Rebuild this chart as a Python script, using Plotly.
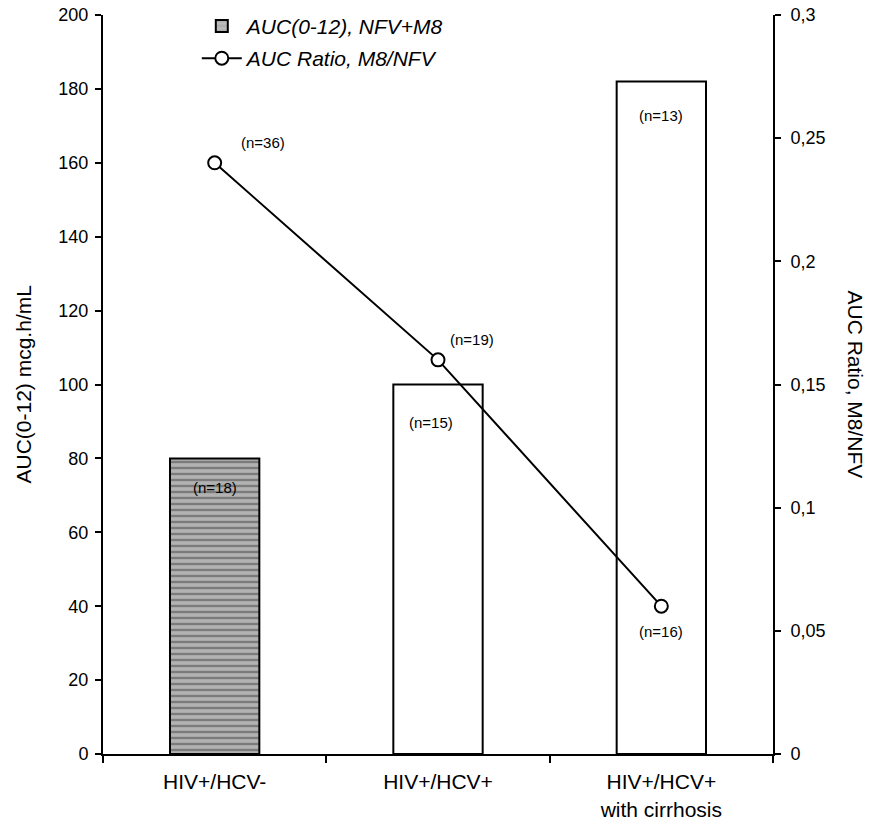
import plotly.graph_objects as go

categories = ["HIV+/HCV-", "HIV+/HCV+", "HIV+/HCV+<br>with cirrhosis"]
auc_values = [80, 100, 182]
auc_n = ["(n=18)", "(n=15)", "(n=13)"]
ratio_values = [0.24, 0.16, 0.06]
ratio_n = ["(n=36)", "(n=19)", "(n=16)"]

font_family = "Liberation Sans, Arial, sans-serif"

fig = go.Figure()

fig.add_trace(go.Bar(
    x=categories, y=auc_values, name="AUC(0-12), NFV+M8",
    width=0.4,
    marker=dict(
        color=["#b2b2b2", "white", "white"],
        line=dict(color="black", width=2),
        pattern=dict(shape=["-", "", ""], fgcolor="#cccccc", bgcolor="#b0b0b0",
                     size=6, solidity=0.4),
    ),
    yaxis="y", legendgroup="a", hoverinfo="skip",
))

fig.add_trace(go.Scatter(
    x=categories, y=ratio_values, name="AUC Ratio, M8/NFV",
    mode="lines+markers",
    line=dict(color="black", width=2),
    marker=dict(symbol="circle", size=13, color="white", line=dict(color="black", width=2)),
    yaxis="y2", legendgroup="b",
))

lab_font = dict(size=15, family=font_family, color="black")

# sample-size labels for the bars
bar_shifts = [(0, -29), (-7, -38), (0, -34)]
for c, v, t, (dx, dy) in zip(categories, auc_values, auc_n, bar_shifts):
    fig.add_annotation(x=c, y=v, yref="y", text=t, showarrow=False,
                       xshift=dx, yshift=dy, font=lab_font)

# sample-size labels for the ratio line
line_shifts = [(48, 20), (34, 20), (0, -25)]
for c, v, t, (dx, dy) in zip(categories, ratio_values, ratio_n, line_shifts):
    fig.add_annotation(x=c, y=v, yref="y2", text=t, showarrow=False,
                       xshift=dx, yshift=dy, font=lab_font)

axis_common = dict(ticks="outside", ticklen=6, tickwidth=2, tickcolor="black",
                   showline=True, linecolor="black", linewidth=2, showgrid=False,
                   zeroline=False, ticklabeloverflow="allow")

fig.update_layout(
    width=869, height=821,
    margin=dict(l=103, r=96, t=15, b=67, autoexpand=False),
    paper_bgcolor="white", plot_bgcolor="white",
    separators=",.",
    font=dict(family=font_family, size=18, color="black"),
    xaxis=dict(
        type="category", tickson="boundaries", ticks="outside", ticklen=7, tickwidth=2,
        tickcolor="black", showline=True, linecolor="black", linewidth=2,
        showgrid=False, tickfont=dict(size=21), ticklabelstandoff=8,
        ticklabeloverflow="allow",
    ),
    yaxis=dict(range=[0, 200], dtick=20, tickfont=dict(size=18), ticklabelstandoff=3,
               **axis_common),
    yaxis2=dict(range=[0, 0.3], dtick=0.05, overlaying="y", side="right",
                tickfont=dict(size=18), ticklabelstandoff=6, **axis_common),
    yaxis3=dict(range=[0, 200], dtick=20, overlaying="y", side="left", ticks="inside",
                ticklen=6, tickwidth=2, tickcolor="black", showticklabels=False,
                showline=False, showgrid=False, zeroline=False),
    yaxis4=dict(range=[0, 0.3], dtick=0.05, overlaying="y", side="right", ticks="inside",
                ticklen=6, tickwidth=2, tickcolor="black", showticklabels=False,
                showline=False, showgrid=False, zeroline=False),
    legend=dict(
        x=0.14, y=1.0125, xanchor="left", yanchor="top",
        font=dict(size=21, style="italic"), bgcolor="rgba(0,0,0,0)",
        traceorder="grouped", tracegroupgap=2, itemwidth=40,
    ),
)

title_font = dict(size=21, family=font_family, color="black")
fig.add_annotation(text="AUC(0-12) mcg.h/mL", xref="paper", yref="paper",
                   x=0, y=0.5, xshift=-80, xanchor="center", yanchor="middle",
                   showarrow=False, textangle=-90, font=title_font)
fig.add_annotation(text="AUC Ratio, M8/NFV", xref="paper", yref="paper",
                   x=1, y=0.5, xshift=82, xanchor="center", yanchor="middle",
                   showarrow=False, textangle=90, font=title_font)

fig.write_html("out.html", config={"displayModeBar": False},
               post_script="document.body.style.margin='0';document.body.style.overflow='hidden';")
